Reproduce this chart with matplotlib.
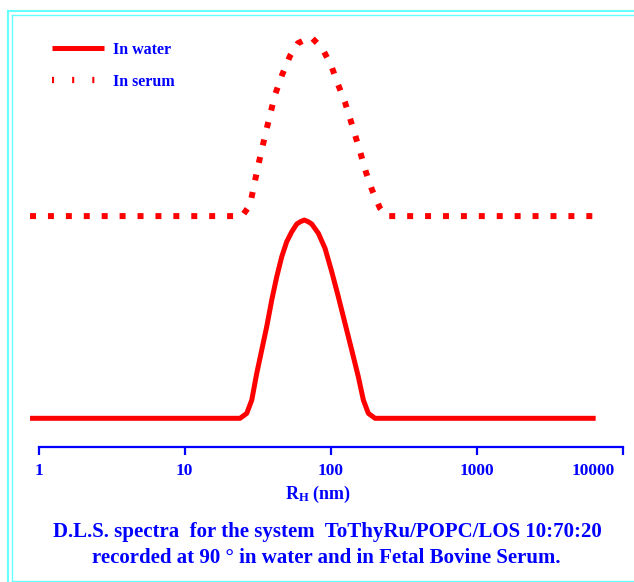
import numpy as np
import matplotlib
matplotlib.use("Agg")
import matplotlib.pyplot as plt
from matplotlib.lines import Line2D
from matplotlib.transforms import ScaledTranslation

# DLS intensity distributions, hydrodynamic radius in nm
# water: relative intensity (peak = 100)
r_water = [0.875, 23.95, 26.62, 28.80, 31.16, 33.71, 36.48, 39.47, 42.70,
           46.20, 49.98, 54.10, 58.53, 62.14, 65.96, 69.94, 74.13, 82.28,
           91.41, 101.6, 112.7, 125.3, 139.2, 154.5, 167.2, 180.9, 201.0, 6500]
i_water = [0, 0, 2.5, 9.2, 22.7, 34.5, 46.3, 59.7, 71.4,
           81.5, 89.1, 94.1, 98.0, 99.2, 100, 99.2, 98.0, 93.3,
           85.7, 73.9, 61.3, 47.8, 34.4, 20.9, 9.2, 2.5, 0, 0]

# serum: relative intensity (peak = 100)
r_serum = [0.875, 24.7, 28.0, 31.8, 36.1, 41.5, 46.4, 52.6, 59.7, 73.3,
           87.1, 100.4, 112, 125, 140, 159, 175, 192, 217, 239, 6500]
i_serum = [0, 0, 6.1, 27.9, 47.5, 67.6, 78.8, 89.4, 96.6, 100,
           93.9, 84.4, 73.7, 63.7, 50.8, 35.8, 24.0, 14.5, 4.5, 0, 0]

ticks = [1, 10, 100, 1000, 10000]
tick_labels = ["1", "10", "100", "1000", "10000"]

serum_offset = 102.0
serum_scale = 0.903

plt.rcParams['font.family'] = ['Liberation Serif', 'DejaVu Serif']
plt.rcParams['font.weight'] = 'bold'
plt.rcParams['mathtext.fontset'] = 'custom'
plt.rcParams['mathtext.rm'] = 'Liberation Serif:bold'
plt.rcParams['mathtext.it'] = 'Liberation Serif:bold'
plt.rcParams['mathtext.bf'] = 'Liberation Serif:bold'
plt.rcParams['lines.scale_dashes'] = False

blue = '#0000ff'
red = '#ff0000'
W, H = 634, 582

fig = plt.figure(figsize=(W / 100, H / 100), dpi=100)
ax = fig.add_axes([38.5 / W, 1 - 447 / H, (623 - 38.5) / W, (447 - 20) / H])

water_line, = ax.plot(r_water, i_water, color=red, lw=3.6, solid_capstyle='butt',
                      solid_joinstyle='round', clip_on=False)
ax.plot(r_serum, serum_offset + serum_scale * np.array(i_serum), color=red,
        lw=4.3, linestyle=(0, (4.3, 8.6)), dash_capstyle='butt',
        clip_on=False)

ax.set_xscale('log')
ax.set_xlim(1, 10000)
ax.set_ylim(-14.47, 200.9)
for s in ['top', 'right', 'left']:
    ax.spines[s].set_visible(False)
ax.spines['bottom'].set_color(blue)
ax.spines['bottom'].set_linewidth(1.6)
ax.set_yticks([])
ax.set_xticks(ticks)
ax.set_xticklabels(tick_labels)
ax.xaxis.set_minor_locator(matplotlib.ticker.NullLocator())
ax.tick_params(axis='x', colors=blue, length=5.5, width=1.6, pad=6,
               labelsize=12.5, direction='out')
# last label sits left of its tick
last = ax.get_xticklabels()[-1]
last.set_transform(last.get_transform() + ScaledTranslation(-0.30, 0, fig.dpi_scale_trans))

fig.text(318 / W, 1 - 494 / H, r'R$_{\mathrm{H}}$ (nm)', color=blue,
         fontsize=13, ha='center', va='center')

fig.text(327 / W, 1 - 532 / H,
         'D.L.S. spectra  for the system  ToThyRu/POPC/LOS 10:70:20',
         color=blue, fontsize=15, ha='center', va='center')
fig.text(326 / W, 1 - 558 / H,
         'recorded at 90 \u00b0 in water and in Fetal Bovine Serum.',
         color=blue, fontsize=15, ha='center', va='center')

# legend: short thin ticks for the dotted entry
serum_handle = Line2D([], [], color=red, lw=4.5, linestyle=(0, (1.5, 13)),
                      dash_capstyle='butt')
leg = ax.legend([water_line, serum_handle], ['In water', 'In serum'],
                loc='upper left', bbox_to_anchor=(52 / W, 1 - 42 / H),
                bbox_transform=fig.transFigure, frameon=False,
                borderpad=0, borderaxespad=0, handlelength=3.25,
                handletextpad=0.56, labelspacing=1.0, fontsize=11.5)
for t in leg.get_texts():
    t.set_color(blue)

# double cyan frame
cyan = '#66ffff'
fig.add_artist(Line2D([8 / W, 8 / W], [0, 1 - 11 / H], color=cyan, lw=1.5,
                      transform=fig.transFigure))
fig.add_artist(Line2D([8 / W, 1], [1 - 11 / H, 1 - 11 / H], color=cyan, lw=1.5,
                      transform=fig.transFigure))
fig.add_artist(Line2D([12 / W, 12 / W], [1 / H, 1 - 15 / H], color=cyan, lw=1.0,
                      transform=fig.transFigure))
fig.add_artist(Line2D([12 / W, 1], [1 - 15 / H, 1 - 15 / H], color=cyan, lw=1.0,
                      transform=fig.transFigure))
fig.add_artist(Line2D([12 / W, 1], [1 / H, 1 / H], color=cyan, lw=1.0,
                      transform=fig.transFigure))

fig.savefig('out.png', dpi=100)
